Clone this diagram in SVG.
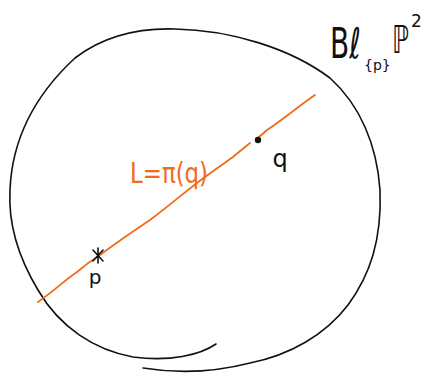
<svg xmlns="http://www.w3.org/2000/svg" width="424" height="380" viewBox="0 0 424 380">
<style>
.ink{fill:none;stroke:#111;stroke-width:1.6;stroke-linecap:round;stroke-linejoin:round}
.or{fill:none;stroke:#f26a1b;stroke-width:1.8;stroke-linecap:round;stroke-linejoin:round}
.t{font-family:"DejaVu Sans",sans-serif;fill:#111}
.to{font-family:"DejaVu Sans",sans-serif;fill:#f26a1b}
</style>
<rect width="424" height="380" fill="#fff"/>
<g id="circle">
<path class="ink" d="M216,344 C200,355 170,362 133,357 C95,350 60,328 38,290 C20,260 8,225 10,190 C12,140 35,95 75,58 C105,35 140,28 175,29 C230,30 290,48 330,78 C360,105 377,145 380,190 C382,240 370,275 348,305 C325,335 290,355 250,363 C215,372 180,374 143,368"/>
</g>
<g id="connectors">
<path class="or" d="M38,302 C55,290 65,280 77,272 C85,265 92,260 100,255 C120,240 135,230 150,220 C170,205 185,192 197,183 C210,173 222,165 233,157 C240,151 245,147 250,143"/>
<path class="or" d="M256,139 C262,135 265,132 267,130 C285,118 300,105 315,95"/>
</g>
<g id="p">
<path class="ink" d="M93,250 L103,261 M103,250 L93,261 M98,248 L98,263" stroke-width="1.3"/>
<text class="t" x="95" y="284" font-size="20" text-anchor="middle">p</text>
</g>
<g id="q">
<circle cx="258" cy="140" r="3.2" fill="#111"/>
<text class="t" x="280" y="167" font-size="24" text-anchor="middle">q</text>
</g>
<g id="L">
<text class="to" x="130" y="183" font-size="28" textLength="78" lengthAdjust="spacingAndGlyphs">L=π(q)</text>
</g>
<g id="title">
<text class="t" transform="translate(330,58) scale(1,1.5)" font-size="28">Bℓ</text>
<text class="t" x="364" y="70" font-size="14">{p}</text>
<text class="t" transform="translate(392,53) scale(1,1.6)" font-size="24">ℙ</text>
<text class="t" x="411" y="27" font-size="17">2</text>
</g>
</svg>
